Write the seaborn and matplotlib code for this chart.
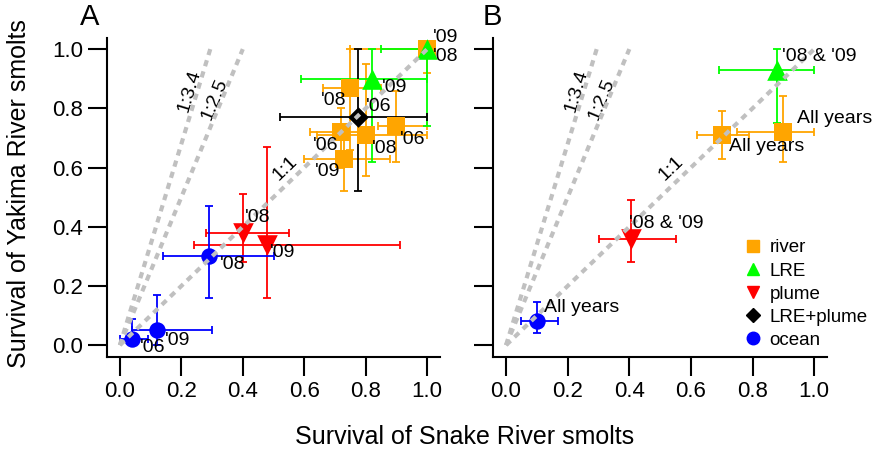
import numpy as np
import pandas as pd
import matplotlib.pyplot as plt
import seaborn as sns
from matplotlib.lines import Line2D

sns.set_style("ticks")
plt.rcParams['font.family'] = ['Liberation Sans', 'DejaVu Sans']
plt.rcParams.update({'text.color': 'black', 'axes.labelcolor': 'black',
                     'xtick.color': 'black', 'ytick.color': 'black',
                     'axes.edgecolor': 'black'})

# Panel A: by year
grp_a = ['river'] * 6 + ['LRE'] * 2 + ['plume'] * 2 + ['LRE+plume'] + ['ocean'] * 3
x_a = [0.75, 1.00, 0.72, 0.80, 0.90, 0.73, 1.00, 0.82, 0.40, 0.48, 0.775, 0.29, 0.12, 0.04]
y_a = [0.87, 1.00, 0.72, 0.71, 0.74, 0.63, 1.00, 0.90, 0.38, 0.34, 0.77, 0.30, 0.05, 0.02]
xlo_a = [0.66, 0.75, 0.62, 0.64, 0.84, 0.60, 0.85, 0.59, 0.28, 0.24, 0.52, 0.14, 0.04, 0.00]
xhi_a = [0.85, 1.00, 0.78, 1.00, 1.00, 0.88, 1.00, 1.00, 0.55, 0.91, 1.00, 0.50, 0.30, 0.09]
ylo_a = [0.66, 0.92, 0.60, 0.57, 0.62, 0.52, 0.74, 0.62, 0.28, 0.16, 0.52, 0.16, 0.00, 0.00]
yhi_a = [1.00, 1.00, 0.80, 0.95, 0.86, 0.72, 1.00, 1.00, 0.51, 0.67, 1.00, 0.47, 0.17, 0.09]
lab_a = ["'08", "'09", "'06", "'08", "'06", "'09", "'08", "'09", "'08", "'09", "'06", "'08", "'09", "'06"]
# label offsets (points)
off_a = [(-12, -9), (13, 8.5), (-11.5, -9.5), (13.5, -9.5), (11.5, -10), (-12, -9.5), (13, -5),
         (16, -6.5), (11, 11), (11, -6), (14.5, 8), (17, -6), (15, -7), (15, -6)]

# Panel B: pooled years
grp_b = ['river', 'river', 'LRE', 'plume', 'ocean']
x_b = [0.70, 0.90, 0.88, 0.405, 0.10]
y_b = [0.71, 0.72, 0.93, 0.36, 0.08]
xlo_b = [0.62, 0.75, 0.69, 0.30, 0.05]
xhi_b = [0.79, 1.00, 1.00, 0.55, 0.17]
ylo_b = [0.63, 0.62, 0.75, 0.28, 0.04]
yhi_b = [0.79, 0.84, 1.00, 0.49, 0.145]
lab_b = ["All years", "All years", "'08 & '09", "'08 & '09", "All years"]
off_b = [(5, -8), (9.5, 9.5), (3.5, 9.5), (-1.5, 11), (5, 10)]

ratios = [3.4, 2.5, 1.0]
ratio_labels = ['1:3.4', '1:2.5', '1:1']
ratio_lab_xy = [(0.228, 0.86), (0.31, 0.83), (0.537, 0.598)]

groups = ['river', 'LRE', 'plume', 'LRE+plume', 'ocean']
colors = {'river': '#FFA500', 'LRE': '#00FF00', 'plume': '#FF0000',
          'LRE+plume': '#000000', 'ocean': '#0000FF'}
markers = {'river': 's', 'LRE': '^', 'plume': 'v', 'LRE+plume': 'D', 'ocean': 'o'}
msize = {'river': 150, 'LRE': 220, 'plume': 220, 'LRE+plume': 110, 'ocean': 140}

fig = plt.figure(figsize=(8.79, 4.51), dpi=100)
axA = fig.add_axes([0.1217, 0.2084, 0.379, 0.707])
axB = fig.add_axes([0.561, 0.2084, 0.38, 0.707])


def draw_panel(ax, grp, x, y, xlo, xhi, ylo, yhi, labs, offs, ha):
    df = pd.DataFrame({'grp': grp, 'x': x, 'y': y, 'xlo': xlo, 'xhi': xhi,
                       'ylo': ylo, 'yhi': yhi, 'lab': labs})
    for g in groups:
        d = df[df.grp == g]
        if d.empty:
            continue
        ax.errorbar(d.x, d.y,
                    xerr=[d.x - d.xlo, d.xhi - d.x],
                    yerr=[d.y - d.ylo, d.yhi - d.y],
                    fmt='none', ecolor=colors[g], elinewidth=1.3,
                    capsize=3, capthick=1.3, zorder=2)
        sns.scatterplot(data=d, x='x', y='y', marker=markers[g], color=colors[g],
                        s=msize[g], linewidth=0, ax=ax, zorder=3, legend=False)
    for (xx, yy, lb), off in zip(df[['x', 'y', 'lab']].values, offs):
        ax.annotate(lb, (xx, yy), xytext=off, textcoords='offset points',
                    ha=ha, va='center', fontsize=14, zorder=5)
    # reference ratio lines
    for r, rl, (lx, ly) in zip(ratios, ratio_labels, ratio_lab_xy):
        xe = min(1.0, 1.0 / r)
        ax.plot([0, xe], [0, r * xe], color='#C0C0C0', lw=3,
                linestyle=(0, (1.5, 1.3)), zorder=4)
        p0 = ax.transData.transform((0, 0))
        p1 = ax.transData.transform((xe, r * xe))
        ang = np.degrees(np.arctan2(p1[1] - p0[1], p1[0] - p0[0]))
        ax.text(lx, ly, rl, rotation=ang, rotation_mode='anchor', ha='center',
                va='center', fontsize=14)


for ax in (axA, axB):
    ax.set_xlim(-0.042, 1.042)
    ax.set_ylim(-0.04, 1.037)
    ax.set_xticks(np.arange(0, 1.01, 0.2))
    ax.set_yticks(np.arange(0, 1.01, 0.2))
    ax.tick_params(direction='out', length=14, width=1.5, labelsize=16, pad=3)
    for s in ['left', 'bottom']:
        ax.spines[s].set_linewidth(1.5)
    sns.despine(ax=ax)

draw_panel(axA, grp_a, x_a, y_a, xlo_a, xhi_a, ylo_a, yhi_a, lab_a, off_a, 'center')
draw_panel(axB, grp_b, x_b, y_b, xlo_b, xhi_b, ylo_b, yhi_b, lab_b, off_b, 'left')

for ax in (axA, axB):
    ax.set_xlabel('')
    ax.set_ylabel('')
    ax.xaxis.set_major_formatter(plt.FormatStrFormatter('%.1f'))
    ax.yaxis.set_major_formatter(plt.FormatStrFormatter('%.1f'))
axB.set_yticklabels([])

fig.text(0.022, 0.57, 'Survival of Yakima River smolts', fontsize=18,
         rotation=90, ha='center', va='center')
fig.text(0.529, 0.03, 'Survival of Snake River smolts', fontsize=18, ha='center', va='center')
fig.text(0.102, 0.962, 'A', fontsize=21, ha='center', va='center')
fig.text(0.56, 0.962, 'B', fontsize=21, ha='center', va='center')

handles = [Line2D([], [], linestyle='none', marker=markers[g], color=colors[g],
                  markersize=9 if g != 'LRE+plume' else 7) for g in groups]
axB.legend(handles, groups, loc='lower left', bbox_to_anchor=(0.71, -0.01),
           frameon=False, fontsize=13.5, handletextpad=0.3, labelspacing=0.32,
           borderaxespad=0.2, handlelength=1.2)

fig.savefig('out.png', dpi=100)
